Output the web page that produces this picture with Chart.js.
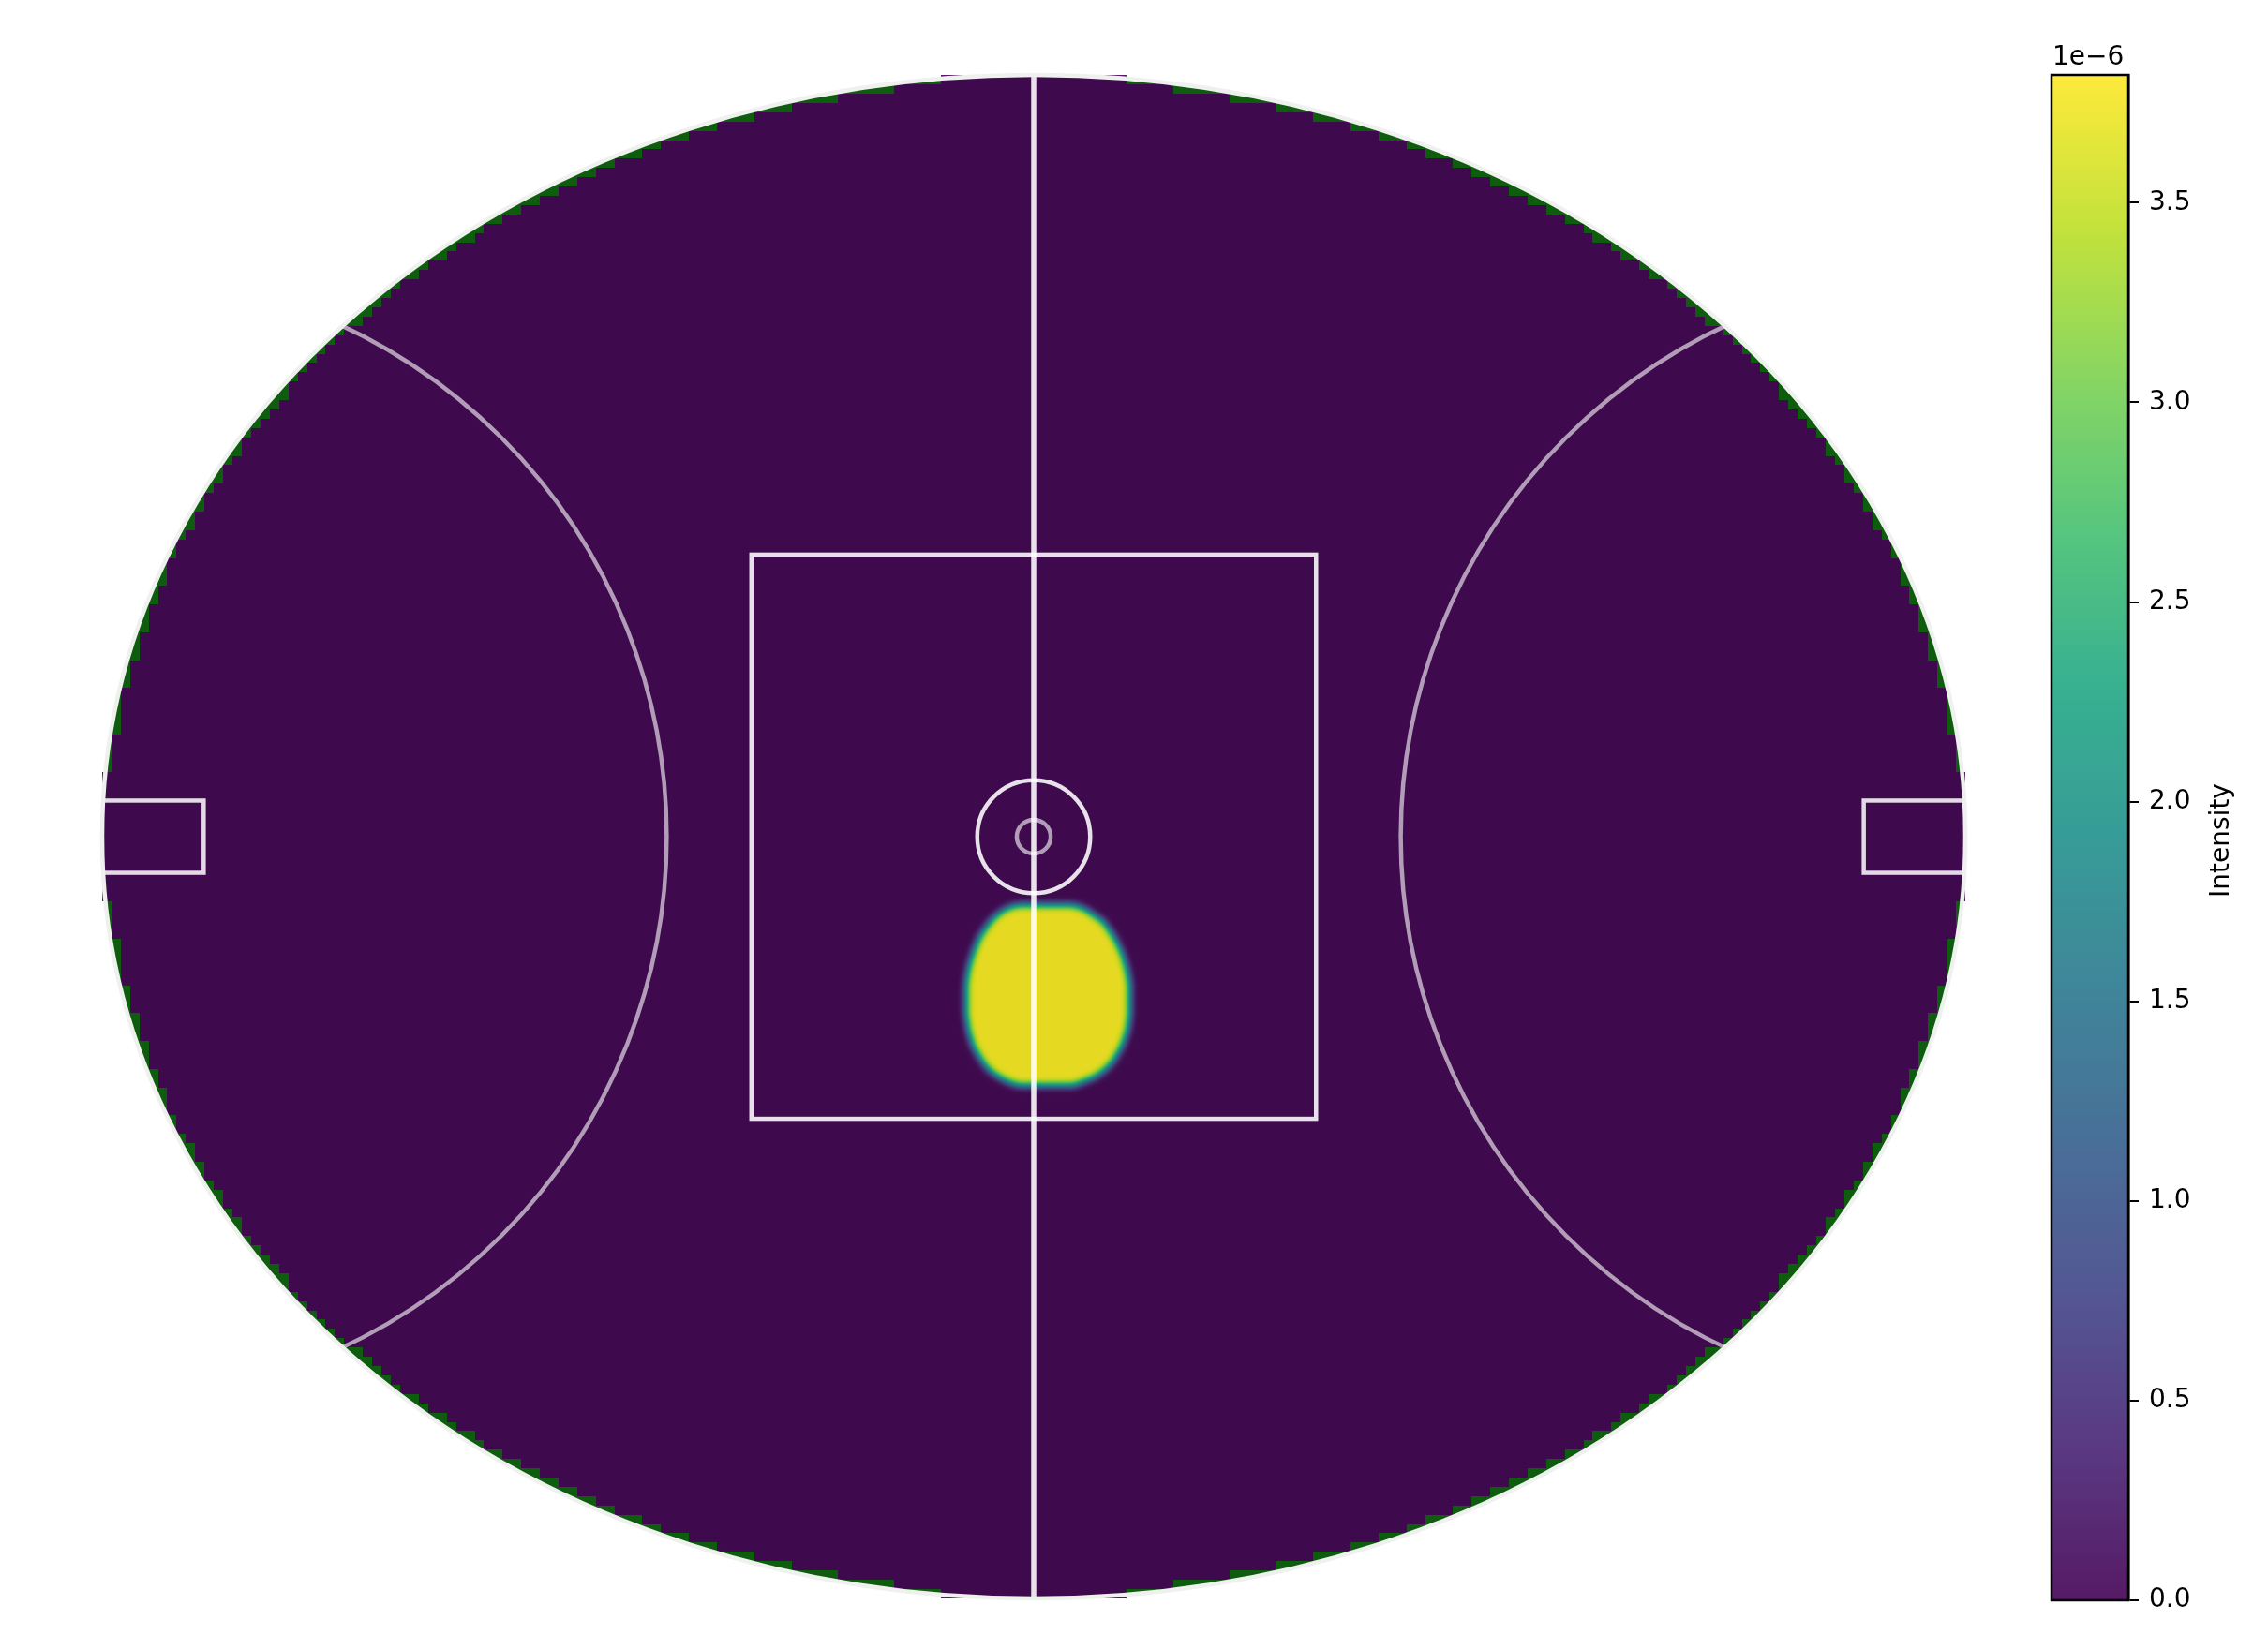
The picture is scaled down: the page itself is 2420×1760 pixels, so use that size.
<!DOCTYPE html>
<html>
<head>
<meta charset="utf-8">
<script src="https://cdn.jsdelivr.net/npm/chart.js@4"></script>
<style>
  body { margin: 0; background: #fff; }
  #field { position: absolute; left: 0; top: 0; }
  #cbar { position: absolute; left: 2150px; top: 0; }
</style>
</head>
<body>
<canvas id="field" width="2150" height="1760" style="width:2150px;height:1760px"></canvas>
<canvas id="cbar" width="270" height="1760" style="width:270px;height:1760px"></canvas>
<script>
// ground dimensions, metres
const fieldLength = 165;
const fieldWidth = 135;
const centreSquare = 50;
const centreCircles = [5, 1.5];
const arcRadius = 50;
const goalSquare = [9, 6.4];   // depth, width

// heat grid (cells masked to the oval)
const gridCols = 200;
const gridRows = 164;
const gridHalf = [82.5, 67.5];

// saturated hot zone (metres)
const hotY     = [-6.07, -6.40, -6.96, -7.51, -8.90, -10.28, -11.66, -13.05, -15.81, -17.20, -18.58, -19.96, -20.79, -21.34, -21.76, -22.03];
const hotLeft  = [-1.47, -2.44, -3.27, -3.82, -4.79, -5.34, -5.76, -5.98, -5.98, -5.76, -5.34, -4.51, -3.82, -2.99, -2.16, -1.33];
const hotRight = [3.50, 4.48, 5.31, 6.14, 7.11, 7.80, 8.22, 8.49, 8.49, 8.29, 7.80, 6.97, 6.14, 5.31, 4.20, 3.65];
const hotValue = 3.82;          // x 1e-6

// colour bar
const cbMax = 3.82;
const cbTicks = [0, 0.5, 1, 1.5, 2, 2.5, 3, 3.5];

const viridis = ['#440154', '#482475', '#414487', '#355f8d', '#2a788e', '#21918c',
                 '#22a884', '#44bf70', '#7ad151', '#bddf26', '#fde725'];

const hex = h => [1, 3, 5].map(i => parseInt(h.slice(i, i + 2), 16));
const vstops = viridis.map(hex);
function viridisAt(t) {
  t = Math.min(1, Math.max(0, t)) * (vstops.length - 1);
  const i = Math.min(vstops.length - 2, Math.floor(t)), f = t - i;
  return vstops[i].map((c, k) => c + (vstops[i + 1][k] - c) * f);
}

const fieldPlugin = {
  id: 'field',
  afterDraw(chart) {
    const { ctx, scales: { x, y } } = chart;
    const W = chart.width, H = chart.height;
    const px = v => x.getPixelForValue(v), py = v => y.getPixelForValue(v);
    const cx = px(0), cy = py(0);
    const rx = px(fieldLength / 2) - cx, ry = cy - py(fieldWidth / 2);
    const oval = c => { c.beginPath(); c.ellipse(cx, cy, rx, ry, 0, 0, 2 * Math.PI); };

    // grass
    ctx.save();
    ctx.fillStyle = '#0e5c0e';
    oval(ctx);
    ctx.fill();

    // cells lying on the ground (outer corner inside the oval)
    const mask = document.createElement('canvas');
    mask.width = W; mask.height = H;
    const mctx = mask.getContext('2d');
    mctx.fillStyle = '#fff';
    const cw = 2 * gridHalf[0] / gridCols, ch = 2 * gridHalf[1] / gridRows;
    const ma = fieldLength / 2 - 0.05, mb = fieldWidth / 2 - 0.05;
    for (let i = 0; i < gridCols; i++) {
      for (let j = 0; j < gridRows; j++) {
        const x0 = -gridHalf[0] + i * cw, y0 = -gridHalf[1] + j * ch;
        const xo = Math.max(Math.abs(x0), Math.abs(x0 + cw));
        const yo = Math.max(Math.abs(y0), Math.abs(y0 + ch));
        const xi = Math.min(Math.abs(x0), Math.abs(x0 + cw));
        const yi = Math.min(Math.abs(y0), Math.abs(y0 + ch));
        // flat rows/columns at the ends may reach the boundary
        const outer = (xo / ma) ** 2 + (yo / mb) ** 2;
        const edge = (xi / ma) ** 2 + (yo / (mb + 0.4)) ** 2 <= 1 && xi < 8 ||
                     (xo / (ma + 0.4)) ** 2 + (yi / mb) ** 2 <= 1 && yi < 5;
        if (outer > 1 && !edge) continue;
        const l = Math.round(px(x0)), r = Math.round(px(x0 + cw));
        const t = Math.round(py(y0 + ch)), b = Math.round(py(y0));
        mctx.fillRect(l, t, r - l, b - t);
      }
    }

    // hot zone, softened at the edge
    const hot = document.createElement('canvas');
    hot.width = W; hot.height = H;
    const hctx = hot.getContext('2d');
    hctx.filter = 'blur(4px)';
    hctx.fillStyle = '#fff';
    hctx.beginPath();
    hotY.forEach((v, k) => k ? hctx.lineTo(px(hotLeft[k]), py(v)) : hctx.moveTo(px(hotLeft[k]), py(v)));
    for (let k = hotY.length - 1; k >= 0; k--) hctx.lineTo(px(hotRight[k]), py(hotY[k]));
    hctx.closePath();
    hctx.fill();

    const md = mctx.getImageData(0, 0, W, H).data;
    const hd = hctx.getImageData(0, 0, W, H).data;
    const out = mctx.createImageData(W, H);
    const od = out.data;
    for (let p = 0; p < md.length; p += 4) {
      if (!md[p + 3]) continue;
      const v = hotValue * hd[p + 3] / 255;
      const c = viridisAt(v / cbMax);
      od[p] = c[0]; od[p + 1] = c[1]; od[p + 2] = c[2]; od[p + 3] = 230;
    }
    const layer = document.createElement('canvas');
    layer.width = W; layer.height = H;
    layer.getContext('2d').putImageData(out, 0, 0);
    ctx.drawImage(layer, 0, 0);

    // markings
    const stroke = (a, w) => { ctx.strokeStyle = `rgba(255,255,255,${a})`; ctx.lineWidth = w; };
    ctx.save();
    oval(ctx);
    ctx.clip();
    stroke(0.88, 5.5);
    ctx.beginPath();
    ctx.moveTo(cx, py(fieldWidth / 2)); ctx.lineTo(cx, py(-fieldWidth / 2));
    ctx.stroke();
    stroke(0.6, 4.5);
    [-1, 1].forEach(s => {
      ctx.beginPath();
      ctx.arc(px(s * fieldLength / 2), cy, Math.abs(px(arcRadius) - cx), 0, 2 * Math.PI);
      ctx.stroke();
    });
    stroke(0.85, 4.5);
    [-1, 1].forEach(s => {
      const a = px(s * fieldLength / 2), b = px(s * (fieldLength / 2 - goalSquare[0]));
      ctx.strokeRect(Math.min(a, b), py(goalSquare[1] / 2), Math.abs(b - a), py(-goalSquare[1] / 2) - py(goalSquare[1] / 2));
    });
    ctx.restore();

    const h = centreSquare / 2;
    stroke(0.88, 4.5);
    ctx.strokeRect(px(-h), py(h), px(h) - px(-h), py(-h) - py(h));
    centreCircles.forEach((r, k) => {
      stroke(k ? 0.6 : 0.88, 4.5);
      ctx.beginPath();
      ctx.arc(cx, cy, px(r) - cx, 0, 2 * Math.PI);
      ctx.stroke();
    });

    ctx.strokeStyle = '#eef1ee';
    ctx.lineWidth = 4.5;
    oval(ctx);
    ctx.stroke();
    ctx.restore();
  }
};

new Chart(document.getElementById('field'), {
  type: 'scatter',
  data: { datasets: [] },
  options: {
    responsive: false,
    animation: false,
    layout: { autoPadding: false, padding: { left: 66, right: 10, top: 50, bottom: 24 } },
    plugins: { legend: { display: false }, tooltip: { enabled: false } },
    scales: {
      x: { type: 'linear', min: -86.06, max: 86.06, display: false },
      y: { type: 'linear', min: -70, max: 70, display: false }
    }
  },
  plugins: [fieldPlugin]
});

// colour bar
const cbFont = { family: 'DejaVu Sans', size: 28 };

function cbGradient(context) {
  const chart = context.chart;
  const ys = chart.scales.y;
  if (!chart.chartArea || !ys) return viridis[0];
  const g = chart.ctx.createLinearGradient(0, ys.getPixelForValue(0), 0, ys.getPixelForValue(cbMax));
  viridis.forEach((c, i) => {
    const [r, gg, b] = hex(c);
    g.addColorStop(i / (viridis.length - 1), `rgba(${r},${gg},${b},0.9)`);
  });
  return g;
}

const cbarPlugin = {
  id: 'cbarFrame',
  afterDraw(chart) {
    const { ctx, chartArea: a } = chart;
    ctx.save();
    ctx.strokeStyle = '#000';
    ctx.lineWidth = 2.5;
    ctx.strokeRect(a.left, a.top, a.right - a.left, a.bottom - a.top);
    ctx.fillStyle = '#000';
    ctx.font = `${cbFont.size}px "${cbFont.family}"`;
    ctx.textAlign = 'left';
    ctx.textBaseline = 'alphabetic';
    ctx.fillText('1e\u22126', a.left + 1, 69);
    ctx.translate(228, (a.top + a.bottom) / 2 + 3);
    ctx.rotate(-Math.PI / 2);
    ctx.textAlign = 'center';
    ctx.fillText('Intensity', 0, 0);
    ctx.restore();
  }
};

new Chart(document.getElementById('cbar'), {
  type: 'bar',
  data: {
    labels: ['Intensity'],
    datasets: [{ data: [cbMax], backgroundColor: cbGradient, borderWidth: 0, barPercentage: 1, categoryPercentage: 1 }]
  },
  options: {
    responsive: false,
    animation: false,
    layout: { padding: { left: 39, right: 29, top: 80, bottom: 52 } },
    plugins: { legend: { display: false }, tooltip: { enabled: false } },
    scales: {
      x: { display: false },
      y: {
        position: 'right',
        min: 0,
        max: cbMax,
        afterBuildTicks: s => { s.ticks = cbTicks.map(v => ({ value: v })); },
        afterFit: s => { s.width = 120; s.paddingTop = 0; s.paddingBottom = 0; },
        ticks: { color: '#000', padding: 11, font: cbFont, callback: v => v.toFixed(1) },
        grid: { drawOnChartArea: false, drawTicks: true, tickLength: 11, color: '#000', lineWidth: 2 },
        border: { display: true, color: '#000', width: 2.5 }
      }
    }
  },
  plugins: [cbarPlugin]
});
</script>
</body>
</html>
